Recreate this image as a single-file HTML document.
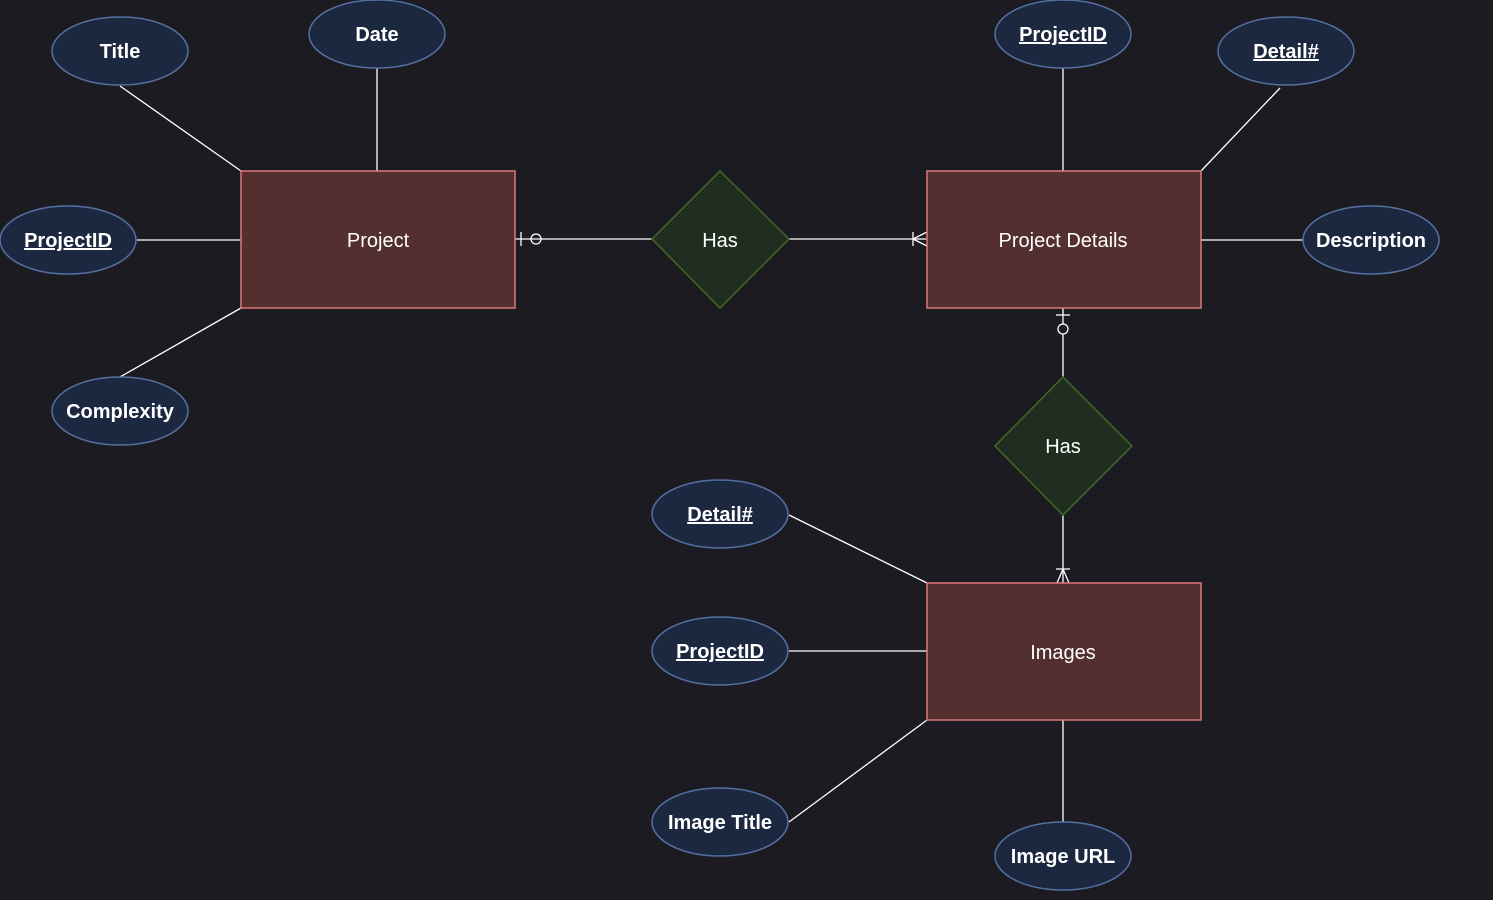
<!DOCTYPE html>
<html><head><meta charset="utf-8"><style>
html,body{margin:0;padding:0;background:#1c1b22;}
svg{display:block}
text{font-family:"Liberation Sans",Arial,sans-serif;fill:#fff;}
.a{font-weight:bold;font-size:20px}
.e{font-size:20px}
.l{stroke:#fff;stroke-width:1.3;fill:none}
ellipse{fill:#1c2840;stroke:#5470a0;stroke-width:1.5}
.ent{fill:#542f2f;stroke:#d9787a;stroke-width:1.5}
.dia{fill:#1f2e1f;stroke:#3f6a27;stroke-width:1.5}
</style></head><body>
<svg width="1493" height="900" xmlns="http://www.w3.org/2000/svg">
<line class="l" x1="120" y1="86" x2="241" y2="171"/>
<line class="l" x1="377" y1="68" x2="377" y2="171"/>
<line class="l" x1="137" y1="240" x2="241" y2="240"/>
<line class="l" x1="120" y1="377" x2="241" y2="308"/>
<line class="l" x1="515" y1="239" x2="652" y2="239"/>
<line class="l" x1="789" y1="239" x2="927" y2="239"/>
<line class="l" x1="1063" y1="68" x2="1063" y2="171"/>
<line class="l" x1="1280" y1="88" x2="1201" y2="171"/>
<line class="l" x1="1201" y1="240" x2="1303" y2="240"/>
<line class="l" x1="1063" y1="308" x2="1063" y2="377"/>
<line class="l" x1="1063" y1="515" x2="1063" y2="583"/>
<line class="l" x1="789" y1="515" x2="927" y2="583"/>
<line class="l" x1="789" y1="651" x2="927" y2="651"/>
<line class="l" x1="789" y1="822" x2="927" y2="720"/>
<line class="l" x1="1063" y1="720" x2="1063" y2="822"/>
<line class="l" x1="521" y1="232" x2="521" y2="246"/>
<circle class="l" cx="536" cy="239" r="5"/>
<line class="l" x1="913" y1="232" x2="913" y2="246"/>
<line class="l" x1="913" y1="239" x2="927" y2="232"/>
<line class="l" x1="913" y1="239" x2="927" y2="246"/>
<line class="l" x1="1056" y1="315" x2="1070" y2="315"/>
<circle class="l" cx="1063" cy="329" r="5" style="fill:#1c1b22"/>
<line class="l" x1="1056" y1="569" x2="1070" y2="569"/>
<line class="l" x1="1063" y1="569" x2="1057" y2="583"/>
<line class="l" x1="1063" y1="569" x2="1069" y2="583"/>
<rect class="ent" x="241" y="171" width="274" height="137"/>
<text class="e" x="378" y="247" text-anchor="middle">Project</text>
<rect class="ent" x="927" y="171" width="274" height="137"/>
<text class="e" x="1063" y="247" text-anchor="middle">Project Details</text>
<rect class="ent" x="927" y="583" width="274" height="137"/>
<text class="e" x="1063" y="659" text-anchor="middle">Images</text>
<polygon class="dia" points="720,171 789,239 720,308 652,239"/>
<text class="e" x="720" y="247" text-anchor="middle">Has</text>
<polygon class="dia" points="1063,377 1132,446 1063,515 995,446"/>
<text class="e" x="1063" y="453" text-anchor="middle">Has</text>
<ellipse cx="120" cy="51" rx="68" ry="34"/><text class="a" x="120" y="58" text-anchor="middle">Title</text>
<ellipse cx="377" cy="34" rx="68" ry="34"/><text class="a" x="377" y="41" text-anchor="middle">Date</text>
<ellipse cx="68" cy="240" rx="68" ry="34"/><text class="a" x="68" y="247" text-anchor="middle" text-decoration="underline">ProjectID</text>
<ellipse cx="120" cy="411" rx="68" ry="34"/><text class="a" x="120" y="418" text-anchor="middle">Complexity</text>
<ellipse cx="1063" cy="34" rx="68" ry="34"/><text class="a" x="1063" y="41" text-anchor="middle" text-decoration="underline">ProjectID</text>
<ellipse cx="1286" cy="51" rx="68" ry="34"/><text class="a" x="1286" y="58" text-anchor="middle" text-decoration="underline">Detail#</text>
<ellipse cx="1371" cy="240" rx="68" ry="34"/><text class="a" x="1371" y="247" text-anchor="middle">Description</text>
<ellipse cx="720" cy="514" rx="68" ry="34"/><text class="a" x="720" y="521" text-anchor="middle" text-decoration="underline">Detail#</text>
<ellipse cx="720" cy="651" rx="68" ry="34"/><text class="a" x="720" y="658" text-anchor="middle" text-decoration="underline">ProjectID</text>
<ellipse cx="720" cy="822" rx="68" ry="34"/><text class="a" x="720" y="829" text-anchor="middle">Image Title</text>
<ellipse cx="1063" cy="856" rx="68" ry="34"/><text class="a" x="1063" y="863" text-anchor="middle">Image URL</text>
</svg>
</body></html>
